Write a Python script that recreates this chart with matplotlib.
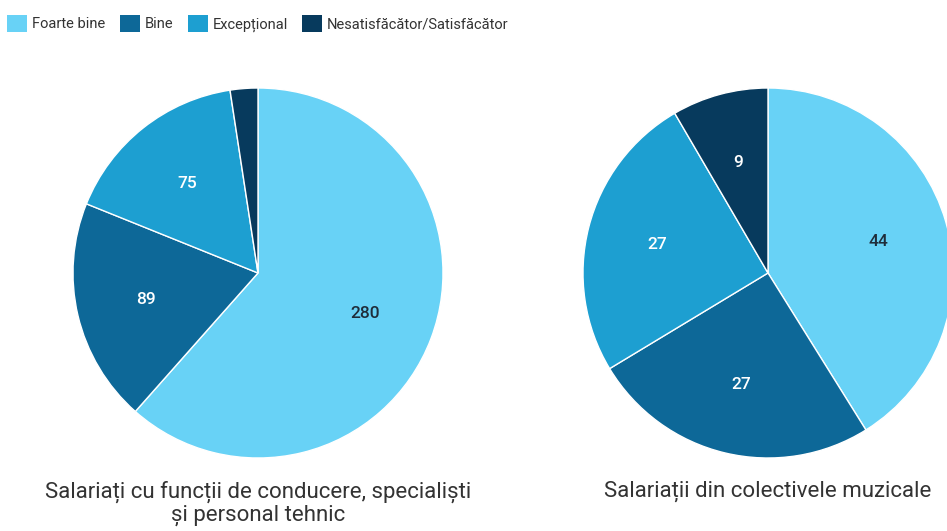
import matplotlib.pyplot as plt
from matplotlib.patches import Patch

plt.rcParams['font.family'] = ['Roboto', 'DejaVu Sans']

categories = ['Foarte bine', 'Bine', 'Excepțional', 'Nesatisfăcător/Satisfăcător']
colors = ['#68d2f6', '#0d6898', '#1d9fd1', '#073a5d']
label_colors = ['#1f2d3a', 'white', 'white', 'white']

left_values = [280, 89, 75, 11]
left_title = 'Salariați cu funcții de conducere, specialiști\nși personal tehnic'
right_values = [44, 27, 27, 9]
right_title = 'Salariații din colectivele muzicale'

fig = plt.figure(figsize=(9.47, 5.31), dpi=100)


def draw_pie(ax, values):
    total = sum(values)
    wedges, texts, autotexts = ax.pie(
        values, colors=colors, startangle=90, counterclock=False,
        autopct=lambda p: f'{round(p * total / 100):d}', pctdistance=0.62,
        wedgeprops=dict(edgecolor='white', linewidth=1),
        textprops=dict(fontsize=12.5, fontweight='medium'))
    for t, c, v in zip(autotexts, label_colors, values):
        t.set_color(c)
        if v / total < 0.05:
            t.set_visible(False)
    ax.set_xlim(-1, 1)
    ax.set_ylim(-1, 1)
    ax.set_aspect('equal')


ax1 = fig.add_axes([73 / 947, 73 / 531, 370 / 947, 370 / 531])
draw_pie(ax1, left_values)
ax2 = fig.add_axes([583 / 947, 73 / 531, 370 / 947, 370 / 531])
draw_pie(ax2, right_values)

fig.text(258 / 947, 1 - 481 / 531, left_title, ha='center', va='top',
         fontsize=16, color='#333333', linespacing=1.1)
fig.text(768 / 947, 1 - 481 / 531, right_title, ha='center', va='top',
         fontsize=16, color='#333333')

handles = [Patch(facecolor=c, label=l) for c, l in zip(colors, categories)]
fig.legend(handles=handles, loc='upper left',
           bbox_to_anchor=(-3 / 947, 1 - 5 / 531),
           ncol=4, frameon=False, fontsize=10.5, handlelength=1.35,
           handleheight=1.35, handletextpad=0.35, columnspacing=1.0,
           labelcolor='#333333', borderaxespad=0.3)

plt.savefig('out.png', dpi=100)
